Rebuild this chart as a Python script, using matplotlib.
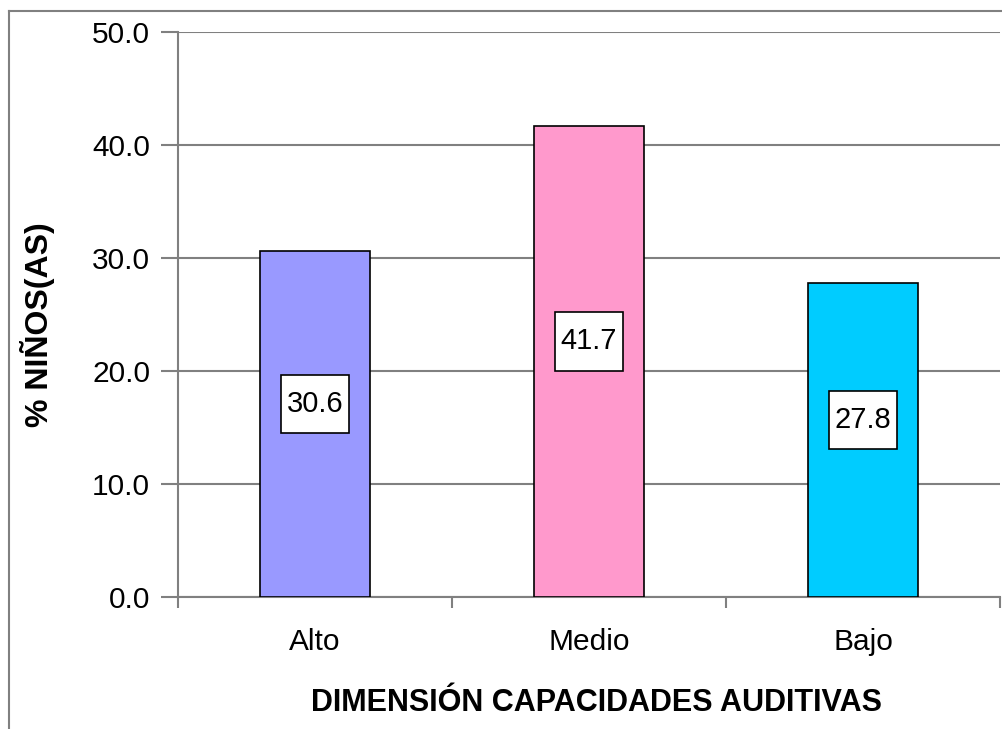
import matplotlib
matplotlib.use("Agg")
import matplotlib.pyplot as plt
from matplotlib.lines import Line2D
from matplotlib.path import Path

categories = ["Alto", "Medio", "Bajo"]
values = [30.6, 41.7, 27.8]
colors = ["#9999FF", "#FF99CC", "#00CCFF"]
yticks = [0, 10, 20, 30, 40, 50]

plt.rcParams['font.family'] = ['Liberation Sans', 'DejaVu Sans']

W, H = 1003, 729
fig = plt.figure(figsize=(W/100, H/100), dpi=100)
ax = fig.add_axes([178/W, 1-597/H, (1000-178)/W, (597-32)/H])

x = list(range(len(categories)))
bars = ax.bar(x, values, width=0.405, color=colors, edgecolor="black", linewidth=1.2, zorder=3)

ax.set_xlim(-0.5, len(categories)-0.5)
ax.set_ylim(0, 50)
ax.set_yticks(yticks)
ax.set_yticklabels([f"{v:.1f}" for v in yticks], fontsize=21.5)
ax.yaxis.grid(True, color="#808080", linewidth=1.5, zorder=0)
ax.set_axisbelow(True)

ax.set_xticks(x)
ax.set_xticklabels(categories, fontsize=21.5)
ax.tick_params(axis='x', which='major', length=0, pad=22)
ax.set_xticks([i-0.5 for i in range(len(categories)+1)], minor=True)
ax.tick_params(axis='x', which='minor', length=8, color="#808080", width=1.5, direction='out')
ax.tick_params(axis='y', length=12, color="#808080", width=1.5, pad=8)

for s in ["top", "right"]:
    ax.spines[s].set_visible(False)
for s in ["left", "bottom"]:
    ax.spines[s].set_color("#808080")
    ax.spines[s].set_linewidth(1.5)


def label_box(x0, y0, width, height, mutation_size):
    px = 0.2 * mutation_size
    py = 0.52 * mutation_size
    x0, y0 = x0 - px, y0 - py
    x1, y1 = x0 + width + 2*px, y0 + height + 2*py
    return Path([(x0, y0), (x1, y0), (x1, y1), (x0, y1), (x0, y0)],
                [Path.MOVETO, Path.LINETO, Path.LINETO, Path.LINETO, Path.CLOSEPOLY])


for xi, v in zip(x, values):
    ax.annotate(f"{v:.1f}", xy=(xi, v/2), xytext=(0, 20), textcoords="offset pixels",
                ha="center", va="center", fontsize=21, zorder=5,
                bbox=dict(boxstyle=label_box, fc="white", ec="black", lw=1.2))

fig.text(38/W, 1-325/H, "% NIÑOS(AS)", rotation=90, ha="center", va="center",
         fontsize=23, fontweight="bold")
fig.text(597/W, 1-703/H, "DIMENSIÓN CAPACIDADES AUDITIVAS", ha="center", va="center",
         fontsize=22, fontweight="bold")

fig.add_artist(Line2D([9/W, 9/W], [0, 1-11/H], color="#808080", linewidth=1.5, transform=fig.transFigure))
fig.add_artist(Line2D([9/W, 1], [1-11/H, 1-11/H], color="#808080", linewidth=1.5, transform=fig.transFigure))

fig.savefig("out.png", dpi=100)
